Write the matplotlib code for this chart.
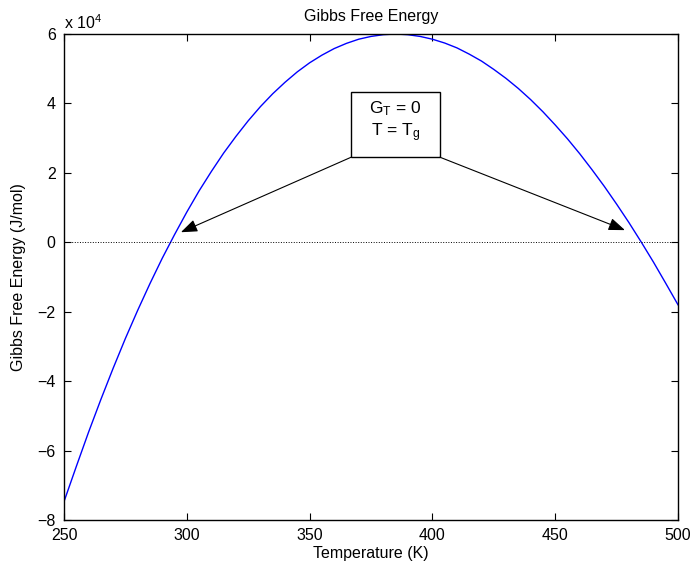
import numpy as np
import matplotlib.pyplot as plt
from matplotlib.patches import Rectangle
from matplotlib.ticker import FuncFormatter

plt.rcParams['font.family'] = ['Liberation Sans', 'DejaVu Sans']
plt.rcParams['mathtext.fontset'] = 'custom'
plt.rcParams['mathtext.rm'] = 'Liberation Sans'
plt.rcParams['mathtext.it'] = 'Liberation Sans'

# Gibbs free energy (J/mol)
temps = list(range(250, 501, 5))
gibbs = [-74700, -64600, -54700, -45300, -36300, -27700, -19600, -11900,
         -4600, 2200, 8700, 14800, 20400, 25700, 30500, 35000, 39100, 42800,
         46100, 49100, 51700, 53900, 55800, 57300, 58500, 59300, 59800, 60000,
         59800, 59300, 58500, 57400, 56000, 54200, 52200, 49800, 47200, 44300,
         41100, 37600, 33800, 29800, 25500, 20900, 16100, 11000, 5700, 100,
         -5700, -11800, -18000]

# annotation: box corners and arrow targets (data units)
box_T = [366.9, 403.1]
box_G = [24500, 43300]
arrow_tips_T = [297.6, 478.4]
arrow_tips_G = [2900, 3500]

fig = plt.figure(figsize=(6.94, 5.69), dpi=100)
ax = fig.add_axes([64/694, 1 - 520/569, 614/694, 486/569])

ax.plot(temps, gibbs, color='blue', lw=1.0)
ax.plot([temps[0], temps[-1]], [0, 0], color='black', ls=':', lw=0.7)

ax.set_xlim(250, 500)
ax.set_ylim(-8e4, 6e4)
ax.set_xticks(np.arange(250, 501, 50))
ax.set_yticks(np.arange(-8e4, 6.1e4, 2e4))
ax.yaxis.set_major_formatter(FuncFormatter(lambda v, p: '%d' % round(v / 1e4) if v >= 0 else '\u2212%d' % round(-v / 1e4)))
ax.tick_params(direction='in', top=True, right=True, length=5, labelsize=11.5, width=0.8)
ax.tick_params(axis='x', pad=6)
ax.tick_params(axis='y', pad=6)
for s in ax.spines.values():
    s.set_linewidth(1.0)

ax.text(0.0, 1.005, r'x 10$^{4}$', transform=ax.transAxes, fontsize=11.5, ha='left', va='bottom')
ax.set_title('Gibbs Free Energy', fontsize=11.5, pad=9)
ax.set_xlabel('Temperature (K)', fontsize=11.5, labelpad=2)
ax.set_ylabel('Gibbs Free Energy (J/mol)', fontsize=11.5, labelpad=8)

# text box with two arrows
ax.add_patch(Rectangle((box_T[0], box_G[0]), box_T[1] - box_T[0], box_G[1] - box_G[0],
                       facecolor='white', edgecolor='black', lw=1.0, zorder=3))
ax.text((box_T[0] + box_T[1]) / 2, (box_G[0] + box_G[1]) / 2 + 900,
        'G$_\\mathregular{T}$ = 0\nT = T$_\\mathregular{g}$',
        ha='center', va='center', fontsize=12.5, zorder=4, linespacing=1.25)
starts = [(box_T[0], box_G[0]), (box_T[1], box_G[0])]
for (sx, sy), tx, ty in zip(starts, arrow_tips_T, arrow_tips_G):
    ax.annotate('', xy=(tx, ty), xytext=(sx, sy),
                arrowprops=dict(arrowstyle='-|>,head_length=1.0,head_width=0.38',
                                color='black', lw=0.8, shrinkA=0, shrinkB=0))

fig.savefig('out.png', dpi=100)
